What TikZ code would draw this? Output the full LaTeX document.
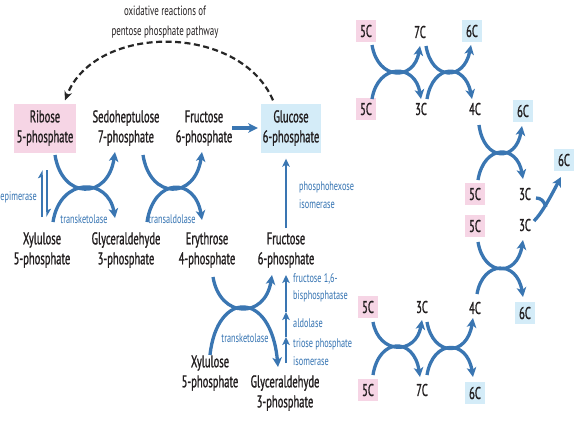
\documentclass[tikz,border=0pt]{standalone}
\usepackage{fontspec}
\setmainfont{PT Sans}[FakeStretch=0.66]
\newfontfamily\lblfont{PT Sans}[FakeStretch=0.62,FakeBold=1.1]
\usetikzlibrary{arrows.meta,calc}
\definecolor{cblue}{RGB}{58,118,178}
\definecolor{eblue}{RGB}{52,115,178}
\definecolor{pinkc}{RGB}{246,213,229}
\definecolor{bluec}{RGB}{212,236,248}
\definecolor{txt}{RGB}{35,31,32}
\tikzset{
  lbl/.style={align=center, text=txt, inner sep=0pt, font=\lblfont\fontsize{17}{20}\selectfont},
  ttl/.style={align=center, text=txt, inner sep=0pt, font=\fontsize{13.5}{20}\selectfont},
  enz/.style={align=left, text=eblue, inner sep=0pt, font=\fontsize{12.5}{17.5}\selectfont},
  pinkbox/.style={fill=pinkc, minimum width=62, minimum height=49},
  bluebox/.style={fill=bluec, minimum width=60, minimum height=49},
  cnum/.style={text=txt, inner sep=0pt, minimum width=20, minimum height=22, font=\lblfont\fontsize{17}{18}\selectfont},
  pc/.style={cnum, fill=pinkc},
  bc/.style={cnum, fill=bluec},
  flow/.style={draw=cblue, line width=3.3pt, -{Stealth[length=9.5pt,width=9.5pt,inset=2.5pt]}},
  thin flow/.style={draw=cblue, line width=2.6pt, -{Stealth[length=8pt,width=7.5pt,inset=2pt]}},
  harp/.style={draw=cblue, line width=2.2pt, -{Stealth[harpoon,length=7pt,width=8pt,inset=1.5pt]}},
  oxid/.style={draw=black!85, line width=2.2pt, dash pattern=on 6pt off 3.5pt, -{Stealth[length=9pt,width=8pt]}},
}
\begin{document}
\begin{tikzpicture}[x=1pt,y=-1pt]
\fill[white] (0,0) rectangle (578,421);
\useasboundingbox (0,0) rectangle (578,421);

% ---- left part: nodes
\node[ttl] (title) at (165,22) {oxidative reactions of\\pentose phosphate pathway};
\node[lbl,pinkbox] (r5p) at (45,128) {Ribose\\5-phosphate};
\node[lbl] (s7p) at (126,128) {Sedoheptulose\\7-phosphate};
\node[lbl] (f6pa) at (204,128) {Fructose\\6-phosphate};
\node[lbl,bluebox] (g6p) at (291,128) {Glucose\\6-phosphate};
\node[lbl] (x5pa) at (42,250) {Xylulose\\5-phosphate};
\node[lbl] (g3pa) at (126,250) {Glyceraldehyde\\3-phosphate};
\node[lbl] (e4p) at (207,250) {Erythrose\\4-phosphate};
\node[lbl] (f6pb) at (286,250) {Fructose\\6-phosphate};
\node[lbl] (x5pb) at (210,373) {Xylulose\\5-phosphate};
\node[lbl] (g3pb) at (285,393) {Glyceraldehyde\\3-phosphate};

\node[enz, anchor=east] (epim) at (37,197) {epimerase};
\node[enz] (tk1) at (84,219) {transketolase};
\node[enz] (ta) at (172,219) {transaldolase};
\node[enz] (tk2) at (245,338) {transketolase};
\node[enz, anchor=west] (phi) at (299,195) {phosphohexose\\isomerase};
\node[enz, anchor=west] (fbp) at (293,288) {fructose 1,6-\\bisphosphatase};
\node[enz, anchor=west] (ald) at (293,323) {aldolase};
\node[enz, anchor=west] (tpi) at (293,352) {triose phosphate\\isomerase};

% ---- left part: connectors
\draw[oxid] ($(g6p.north)+(-18,-3)$) .. controls (240,23) and (95,23) .. ($(r5p.north)+(20,-3)$);
\draw[flow, line width=3.8pt] ($(f6pa)+(28,0)$) -- ($(g6p.west)+(-3,0)$);

% epimerase harpoons
\draw[harp] ($(r5p)+(-3,89)$) -- ($(r5p)+(-3,42)$);
\draw[harp] ($(x5pa)+(5,-80)$) -- ($(x5pa)+(5,-33)$);

% transketolase X
\draw[flow] ($(r5p)+(10,27)$) .. controls (62,200) and (108,200) .. ($(s7p)+(-11,24)$);
\draw[flow] ($(x5pa)+(11,-28)$) .. controls (60,177) and (108,177) .. ($(g3pa)+(-11,-32)$);
% transaldolase X
\draw[flow] ($(s7p)+(17,27)$) .. controls (150,200) and (195,200) .. ($(f6pa)+(-2,24)$);
\draw[flow] ($(g3pa)+(21,-28)$) .. controls (154,177) and (195,177) .. ($(e4p)+(-5,-30)$);
% lower transketolase X
\draw[flow] ($(e4p)+(6,27)$) .. controls (220,319) and (265,319) .. ($(f6pb)+(-14,25)$);
\draw[flow] ($(x5pb)+(0,-18)$) .. controls (217,290) and (271,290) .. ($(g3pb)+(-7,-26)$);

% phosphohexose isomerase
\draw[thin flow] ($(f6pb)+(0,-22)$) -- ($(g6p.south)+(-5,6)$);
% gluconeogenic chain
\coordinate (ch1) at (286,337);
\coordinate (ch2) at (286,312);
\draw[thin flow] ($(g3pb)+(1,-30)$) -- (ch1);
\draw[thin flow] (ch1) -- (ch2);
\draw[thin flow] (ch2) -- ($(f6pb)+(0,25)$);

% ---- right part: carbon counting
\node[pc] (a1) at (366,31) {5C};
\node[cnum] (a2) at (420,32) {7C};
\node[bc] (a3) at (472,31) {6C};
\node[pc] (b1) at (366,109) {5C};
\node[cnum] (b2) at (421,109) {3C};
\node[cnum] (b3) at (475,109) {4C};
\node[bc] (b4) at (523,111) {6C};
\node[pc] (c1) at (475,194) {5C};
\node[cnum] (c2) at (525,194) {3C};
\node[bc] (c3) at (564,160) {6C};
\node[pc] (d1) at (475,226) {5C};
\node[cnum] (d2) at (525,225) {3C};
\node[pc] (e1) at (368,307) {5C};
\node[cnum] (e2) at (422,307) {3C};
\node[cnum] (e3) at (475,308) {4C};
\node[bc] (e4) at (525,313) {6C};
\node[pc] (f1) at (368,390) {5C};
\node[cnum] (f2) at (422,390) {7C};
\node[bc] (f3) at (475,393) {6C};

\draw[flow] ($(a1)+(6,14)$) .. controls (378,81) and (414,81) .. ($(a2)+(0,14)$);
\draw[flow] ($(b1)+(6,-10)$) .. controls (378,63) and (415,63) .. ($(b2)+(0,-10)$);
\draw[flow] ($(a2)+(6,14)$) .. controls (432,81) and (464,81) .. ($(a3)+(-1,14)$);
\draw[flow] ($(b2)+(6,-10)$) .. controls (433,63) and (465,63) .. ($(b3)+(-3,-10)$);

\draw[flow] ($(b3)+(4,16)$) .. controls (484,162) and (516,162) .. ($(b4)+(-1,15)$);
\draw[flow] ($(c1)+(3,-14)$) .. controls (484,144) and (517,144) .. ($(c2)+(-2,-15)$);

\draw[flow] ($(d1)+(3,16)$) .. controls (484,277) and (517,277) .. ($(d2)+(-2,15)$);
\draw[flow] ($(e3)+(2,-14)$) .. controls (483,260) and (517,260) .. ($(e4)+(-2,-16)$);

\draw[flow] ($(e1)+(5,15)$) .. controls (379,355) and (416,355) .. ($(e2)+(0,13)$);
\draw[flow] ($(f1)+(5,-15)$) .. controls (379,337) and (414,337) .. ($(f2)+(-2,-13)$);
\draw[flow] ($(e2)+(5,15)$) .. controls (433,357) and (467,357) .. ($(e3)+(-2,10)$);
\draw[flow] ($(f2)+(5,-15)$) .. controls (433,339) and (467,339) .. ($(f3)+(-2,-16)$);

% merge of two 3C into 6C
\coordinate (J) at (546,207);
\draw[flow] ($(d2)+(9,-4)$) .. controls (543,212) and (553,192) .. ($(c3)+(-3,17)$);
\draw[draw=cblue, line width=3.3pt] ($(c2)+(11,4)$) .. controls (541,198) and (544,201) .. (J);
\end{tikzpicture}
\end{document}
